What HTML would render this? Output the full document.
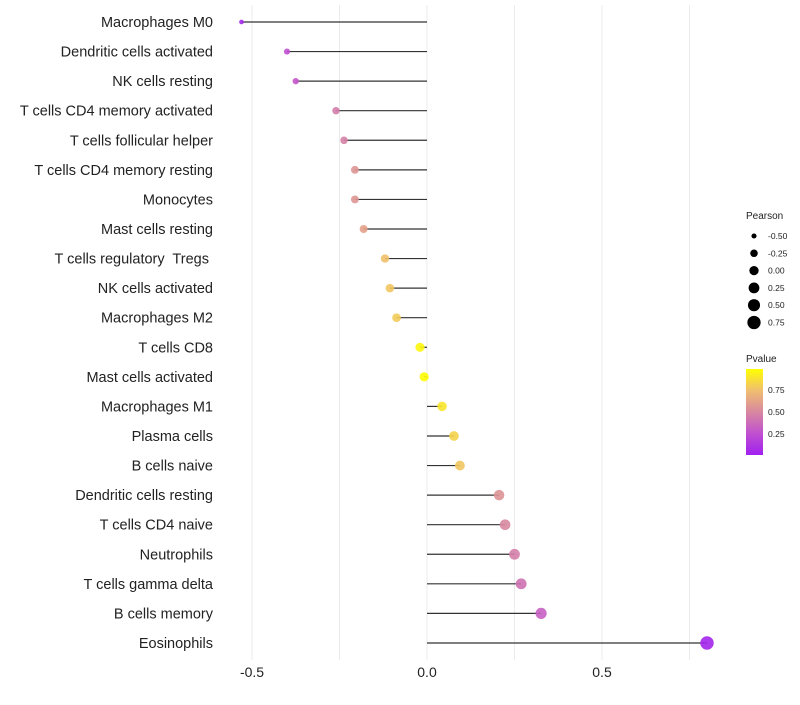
<!DOCTYPE html>
<html><head><meta charset="utf-8"><style>
body{margin:0;background:#fff;font-family:"Liberation Sans",sans-serif}
</style></head><body>
<svg id="chart" width="800" height="700"></svg>
<script>
const categories=["Macrophages M0","Dendritic cells activated","NK cells resting","T cells CD4 memory activated","T cells follicular helper","T cells CD4 memory resting","Monocytes","Mast cells resting","T cells regulatory  Tregs ","NK cells activated","Macrophages M2","T cells CD8","Mast cells activated","Macrophages M1","Plasma cells","B cells naive","Dendritic cells resting","T cells CD4 naive","Neutrophils","T cells gamma delta","B cells memory","Eosinophils"];
const pearson=[-0.53,-0.40,-0.375,-0.26,-0.237,-0.206,-0.206,-0.181,-0.12,-0.106,-0.087,-0.02,-0.008,0.043,0.077,0.094,0.206,0.223,0.25,0.269,0.326,0.80];
const pvalue=[0.05,0.25,0.28,0.45,0.47,0.56,0.56,0.62,0.76,0.78,0.80,0.97,0.99,0.90,0.83,0.78,0.55,0.50,0.46,0.40,0.32,0.03];
const xTicks=[-0.5,0,0.5];
const xGrid=[-0.5,-0.25,0,0.25,0.5,0.75];
const sizeLegend=[-0.50,-0.25,0.00,0.25,0.50,0.75];
const pLegend=[0.75,0.50,0.25];
const NS="http://www.w3.org/2000/svg";
const svg=document.getElementById('chart');
const X=v=>427+v*350;
const Y=i=>22+i*29.57;
const R=v=>Math.sqrt(Math.max(1,6.5+30*(v+0.5)));
const stops=[[0,[160,32,240]],[0.25,[192,80,208]],[0.5,[216,136,160]],[0.75,[240,190,112]],[1,[255,255,0]]];
function col(p){for(let k=1;k<stops.length;k++){if(p<=stops[k][0]){const a=stops[k-1],b=stops[k],t=(p-a[0])/(b[0]-a[0]);return 'rgb('+a[1].map((c,j)=>Math.round(c+(b[1][j]-c)*t)).join(',')+')';}}return 'rgb(255,255,0)';}
function el(t,a,txt){const e=document.createElementNS(NS,t);for(const k in a)e.setAttribute(k,a[k]);if(txt!==undefined)e.textContent=txt;svg.appendChild(e);return e;}
xGrid.forEach(v=>{const g=el('line',{x1:X(v),x2:X(v),y1:5,y2:660,stroke:'#ebebeb','stroke-width':1});

});
xTicks.forEach(v=>{const t=el('text',{x:X(v),y:677,'text-anchor':'middle','font-size':14,fill:'#222'},v===0?'0.0':v.toFixed(1));

});
categories.forEach((c,i)=>{
const t=el('text',{x:213,y:Y(i)+5,'text-anchor':'end','font-size':14.5,fill:'#222',style:'white-space:pre'},c);


const l=el('line',{x1:X(0),x2:X(pearson[i]),y1:Y(i),y2:Y(i),stroke:'#333','stroke-width':1.2});


const p=el('circle',{cx:X(pearson[i]),cy:Y(i),r:R(pearson[i]),fill:col(pvalue[i]),'fill-opacity':0.9});


});
const lt=el('text',{x:746,y:219,'font-size':10,fill:'#222'},'Pearson');


sizeLegend.forEach((v,i)=>{const y=236+i*17.3;
const c=el('circle',{cx:754,cy:y,r:R(v),fill:'#000'});


const t=el('text',{x:768,y:y+3,'font-size':8.5,fill:'#222'},v.toFixed(2));

});
const pt=el('text',{x:746,y:362,'font-size':10,fill:'#222'},'Pvalue');


const defs=el('defs',{});const lg=document.createElementNS(NS,'linearGradient');lg.setAttribute('id','pg');lg.setAttribute('x1','0');lg.setAttribute('y1','1');lg.setAttribute('x2','0');lg.setAttribute('y2','0');
stops.forEach(s=>{const st=document.createElementNS(NS,'stop');st.setAttribute('offset',s[0]);st.setAttribute('stop-color','rgb('+s[1].join(',')+')');lg.appendChild(st);});defs.appendChild(lg);
const bar=el('rect',{x:746,y:369,width:17,height:86,fill:'url(#pg)'});


pLegend.forEach(v=>{const y=456-v*88;
const t=el('text',{x:768,y:y+3,'font-size':8.5,fill:'#222'},v.toFixed(2));

});
</script>
</body></html>
